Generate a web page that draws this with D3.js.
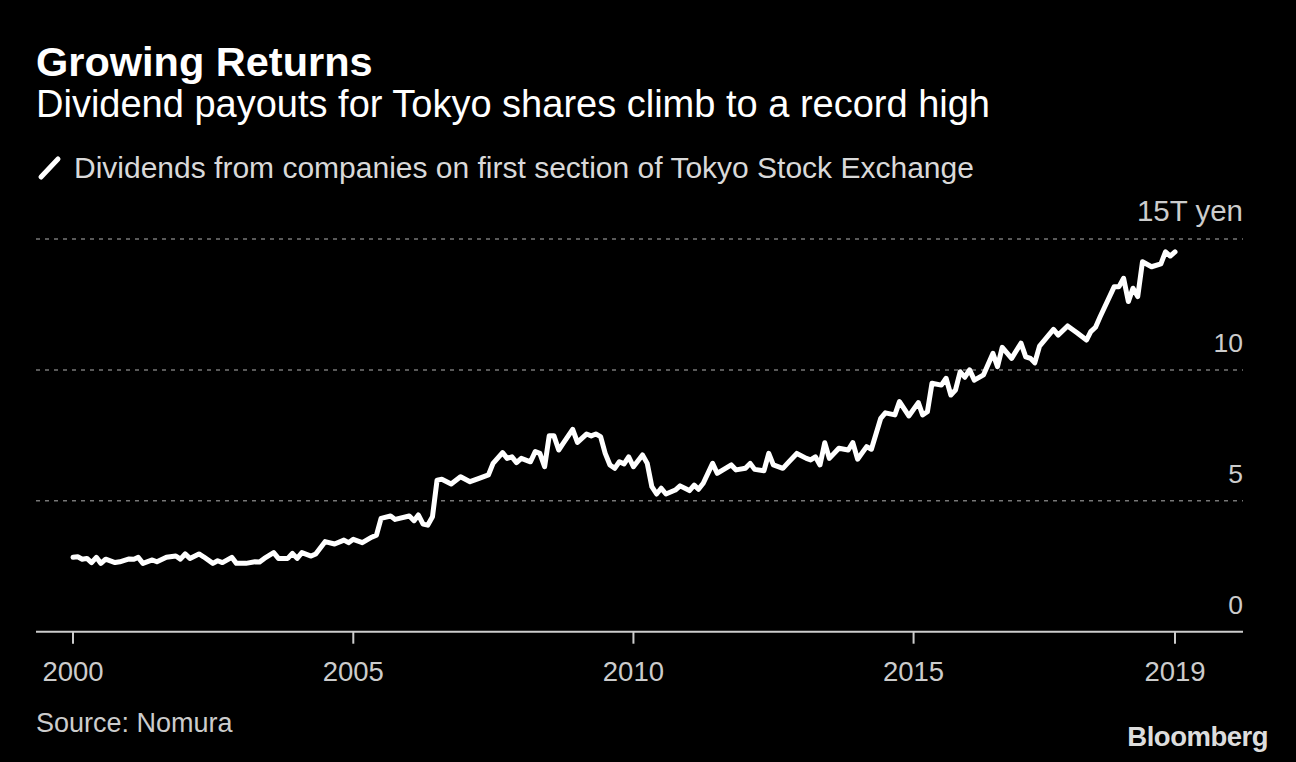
<!DOCTYPE html>
<html>
<head>
<meta charset="utf-8">
<script src="https://cdn.jsdelivr.net/npm/d3@7"></script>
<style>
  html, body { margin: 0; padding: 0; background: #000; }
  svg { display: block; font-family: "Liberation Sans", Arial, sans-serif; }
</style>
</head>
<body>
<svg width="1296" height="762"></svg>
<script>
// months (YYYY-MM) and dividend totals in trillion yen
var months = [
  "2000-01","2000-02","2000-03","2000-04","2000-05","2000-06","2000-07","2000-08","2000-10","2000-11",
  "2001-01","2001-02","2001-03","2001-04","2001-06","2001-07","2001-09","2001-11","2001-12",
  "2002-01","2002-02","2002-04","2002-05","2002-07","2002-08","2002-09","2002-11","2002-12",
  "2003-02","2003-04","2003-05","2003-06","2003-08","2003-09","2003-11","2003-12",
  "2004-01","2004-02","2004-04","2004-05","2004-07","2004-09","2004-11","2004-12",
  "2005-01","2005-03","2005-05","2005-06","2005-07","2005-09","2005-10",
  "2006-01","2006-02","2006-03","2006-04","2006-05","2006-06","2006-07","2006-08","2006-10","2006-12",
  "2007-02","2007-04","2007-06","2007-07","2007-09","2007-10","2007-11","2007-12",
  "2008-01","2008-03","2008-04","2008-05","2008-06","2008-07","2008-08","2008-09","2008-10","2008-12",
  "2009-01","2009-03","2009-04","2009-05","2009-06","2009-07","2009-08","2009-09","2009-10","2009-11","2009-12",
  "2010-01","2010-03","2010-04","2010-05","2010-06","2010-07","2010-08","2010-10","2010-11",
  "2011-01","2011-02","2011-03","2011-04","2011-06","2011-07","2011-10","2011-11",
  "2012-01","2012-02","2012-03","2012-05","2012-06","2012-07","2012-09","2012-10","2012-12",
  "2013-02","2013-03","2013-04","2013-05","2013-06","2013-07","2013-09","2013-11","2013-12",
  "2014-01","2014-03","2014-04","2014-06","2014-07","2014-09","2014-10","2014-12",
  "2015-02","2015-03","2015-04","2015-05","2015-07","2015-08","2015-09","2015-10","2015-11","2015-12",
  "2016-01","2016-02","2016-04","2016-06","2016-07","2016-08","2016-10","2016-12",
  "2017-01","2017-02","2017-03","2017-04","2017-07","2017-08","2017-10","2017-12",
  "2018-02","2018-03","2018-04","2018-05","2018-08","2018-09","2018-10","2018-11","2018-12",
  "2019-01","2019-02","2019-04","2019-06","2019-07","2019-08","2019-09"
];
var dividends = [
  2.84,2.86,2.77,2.80,2.64,2.84,2.61,2.77,2.64,2.67,
  2.78,2.77,2.84,2.61,2.74,2.67,2.84,2.89,2.77,
  2.97,2.80,2.97,2.86,2.61,2.71,2.64,2.84,2.61,
  2.61,2.67,2.66,2.80,3.02,2.80,2.80,2.99,
  2.80,3.02,2.89,2.97,3.44,3.35,3.50,3.40,
  3.53,3.40,3.61,3.69,4.33,4.42,4.29,
  4.42,4.24,4.46,4.11,4.07,4.39,5.79,5.82,5.64,5.92,
  5.73,5.86,5.99,6.43,6.84,6.62,6.68,6.46,
  6.62,6.49,6.88,6.81,6.30,7.48,7.48,6.94,7.20,7.73,
  7.23,7.55,7.48,7.55,7.45,6.81,6.37,6.24,6.49,6.41,6.68,
  6.30,6.75,6.43,5.54,5.26,5.48,5.26,5.41,5.57,
  5.39,5.60,5.44,5.67,6.43,6.05,6.37,6.18,
  6.24,6.43,6.20,6.15,6.81,6.37,6.24,6.43,6.81,
  6.62,6.56,6.68,6.37,7.22,6.62,7.01,6.94,7.22,
  6.59,7.07,6.97,8.15,8.36,8.28,8.79,8.24,
  8.75,8.28,8.40,9.49,9.42,9.68,9.04,9.23,9.93,9.72,
  10.00,9.61,9.81,10.63,10.12,10.86,10.44,11.02,
  10.50,10.44,10.27,10.91,11.55,11.33,11.68,11.42,
  11.14,11.46,11.63,12.03,13.18,13.18,13.50,12.61,13.12,
  12.80,14.13,13.94,14.05,14.51,14.35,14.51
];
var yTicks = [0, 5, 10, 15];
var xTickYears = ["2000", "2005", "2010", "2015"];

var svg = d3.select("svg"),
    width = +svg.attr("width"),
    height = +svg.attr("height");

var parseMonth = d3.timeParse("%Y-%m");
var data = months.map(function(m, i) { return { date: parseMonth(m), value: dividends[i] }; });
var lastDate = data[data.length - 1].date;

var left = 36, right = 1243;

var x = d3.scaleTime()
    .domain([parseMonth("2000-01"), lastDate])
    .range([73, 1175]);

var y = d3.scaleLinear()
    .domain([0, 15])
    .range([631.7, 239]);

// headline
svg.append("text")
    .attr("x", 36).attr("y", 76)
    .attr("fill", "#fff")
    .style("font-size", "41.5px").style("font-weight", "bold")
    .text("Growing Returns");

svg.append("text")
    .attr("x", 36).attr("y", 117)
    .attr("fill", "#fff")
    .style("font-size", "38px")
    .text("Dividend payouts for Tokyo shares climb to a record high");

// legend
svg.append("line")
    .attr("x1", 41).attr("y1", 177).attr("x2", 58).attr("y2", 159)
    .attr("stroke", "#fff").attr("stroke-width", 5).attr("stroke-linecap", "round");

svg.append("text")
    .attr("x", 74).attr("y", 178)
    .attr("fill", "#d9d9d9")
    .style("font-size", "30px")
    .text("Dividends from companies on first section of Tokyo Stock Exchange");

// gridlines + y labels
var grid = svg.append("g").attr("class", "grid");
grid.selectAll("line")
    .data(yTicks.filter(function(d) { return d > 0; }))
    .enter().append("line")
    .attr("x1", left).attr("x2", right)
    .attr("y1", function(d) { return y(d); })
    .attr("y2", function(d) { return y(d); })
    .attr("stroke", "#777").attr("stroke-width", 1.5)
    .attr("stroke-dasharray", "4,5");

grid.selectAll("text")
    .data(yTicks)
    .enter().append("text")
    .attr("x", right).attr("y", function(d) { return y(d) - 18; })
    .attr("text-anchor", "end")
    .attr("fill", "#ccc")
    .style("font-size", function(d) { return d == 15 ? "29.5px" : "26.5px"; })
    .text(function(d) { return d == 15 ? "15T yen" : d; });

// x axis
var xTicks = xTickYears.map(function(yr) { return parseMonth(yr + "-01"); }).concat([lastDate]);

svg.append("line")
    .attr("x1", left).attr("x2", right)
    .attr("y1", y(0)).attr("y2", y(0))
    .attr("stroke", "#ccc").attr("stroke-width", 2);

var xa = svg.append("g").attr("class", "x-axis");
xa.selectAll("line")
    .data(xTicks)
    .enter().append("line")
    .attr("x1", function(d) { return x(d); }).attr("x2", function(d) { return x(d); })
    .attr("y1", y(0)).attr("y2", y(0) + 12)
    .attr("stroke", "#ccc").attr("stroke-width", 2);

xa.selectAll("text")
    .data(xTicks)
    .enter().append("text")
    .attr("x", function(d) { return x(d); })
    .attr("y", 681)
    .attr("text-anchor", "middle")
    .attr("fill", "#ccc")
    .style("font-size", "27.5px")
    .text(function(d) { return d.getFullYear(); });

// the line
var line = d3.line()
    .x(function(d) { return x(d.date); })
    .y(function(d) { return y(d.value); });

svg.append("path")
    .datum(data)
    .attr("fill", "none")
    .attr("stroke", "#fff")
    .attr("stroke-width", 5)
    .attr("stroke-linejoin", "round")
    .attr("stroke-linecap", "round")
    .attr("d", line);

// footer
svg.append("text")
    .attr("x", 36).attr("y", 732)
    .attr("fill", "#ccc")
    .style("font-size", "27px")
    .text("Source: Nomura");

svg.append("text")
    .attr("x", 1268).attr("y", 746)
    .attr("text-anchor", "end")
    .attr("fill", "#ddd")
    .style("font-size", "27.5px").style("font-weight", "bold")
    .style("letter-spacing", "-0.5px")
    .text("Bloomberg");
</script>
</body>
</html>
